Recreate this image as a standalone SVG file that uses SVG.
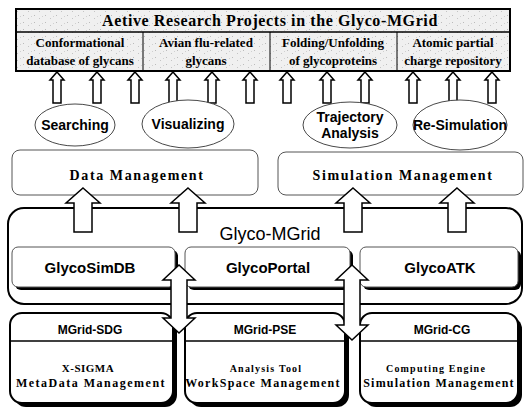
<svg xmlns="http://www.w3.org/2000/svg" xmlns:xlink="http://www.w3.org/1999/xlink" width="525" height="410" viewBox="0 0 525 410">
<defs>
<pattern id="speck" width="11" height="7" patternUnits="userSpaceOnUse">
<rect width="11" height="7" fill="#f0f0f0"/>
<rect x="1" y="1" width="1" height="1" fill="#bbb"/>
<rect x="6" y="4" width="1" height="1" fill="#c4c4c4"/>
<rect x="9" y="2" width="1" height="1" fill="#d0d0d0"/>
</pattern>
<path id="sa" d="M0,0 L7,8 L4,8 L4,31 L-4,31 L-4,8 L-7,8 Z"/>
<path id="ba" d="M0,0 L17,15 L9,15 L9,44 L-9,44 L-9,15 L-17,15 Z"/>
</defs>
<style>
.arr{fill:#fff;stroke:#000;stroke-width:1.5;stroke-linejoin:miter}
.ser{font-family:"Liberation Serif",serif;font-weight:bold;fill:#000;text-anchor:middle}
.san{font-family:"Liberation Sans",Arial,sans-serif;font-weight:bold;fill:#000;text-anchor:middle}
.ell{fill:#fff;stroke:#333;stroke-width:0.9}
.mgmt{fill:#fff;stroke:#555;stroke-width:1}
.inner{fill:#fff;stroke:#555;stroke-width:1}
.shadow{fill:#000}
.bbox{fill:#fff;stroke:#000;stroke-width:2}
</style>
<rect width="525" height="410" fill="#fff"/>

<g id="projects">
<rect x="16" y="9" width="494" height="62" fill="url(#speck)" stroke="#000" stroke-width="2"/>
<line x1="16" y1="32" x2="510" y2="32" stroke="#000" stroke-width="1.5"/>
<line x1="143" y1="32" x2="143" y2="71" stroke="#000" stroke-width="1"/>
<line x1="270" y1="32" x2="270" y2="71" stroke="#000" stroke-width="1"/>
<line x1="397" y1="32" x2="397" y2="71" stroke="#000" stroke-width="1"/>
<text class="ser" x="270" y="26" font-size="16" letter-spacing="0.6">Aetive Research Projects in the Glyco-MGrid</text>
<text class="ser" x="80" y="47" font-size="13">Conformational</text>
<text class="ser" x="80" y="65" font-size="13">database of glycans</text>
<text class="ser" x="206" y="47" font-size="13">Avian flu-related</text>
<text class="ser" x="206" y="65" font-size="13">glycans</text>
<text class="ser" x="333" y="47" font-size="13">Folding/Unfolding</text>
<text class="ser" x="333" y="65" font-size="13">of glycoproteins</text>
<text class="ser" x="453" y="47" font-size="13">Atomic partial</text>
<text class="ser" x="453" y="65" font-size="13">charge repository</text>
</g>

<g id="connectors-top">
<use href="#sa" class="arr" x="57" y="72"/>
<use href="#sa" class="arr" x="97" y="72"/>
<use href="#sa" class="arr" x="135" y="72"/>
<use href="#sa" class="arr" x="173" y="72"/>
<use href="#sa" class="arr" x="212" y="72"/>
<use href="#sa" class="arr" x="250" y="72"/>
<use href="#sa" class="arr" x="287" y="72"/>
<use href="#sa" class="arr" x="327" y="72"/>
<use href="#sa" class="arr" x="365" y="72"/>
<use href="#sa" class="arr" x="413" y="72"/>
<use href="#sa" class="arr" x="453" y="72"/>
<use href="#sa" class="arr" x="492" y="72"/>
</g>

<g id="searching">
<ellipse class="ell" cx="75" cy="125" rx="40" ry="21"/>
<text class="san" x="75" y="130" font-size="14">Searching</text>
</g>
<g id="visualizing">
<ellipse class="ell" cx="188" cy="124" rx="46" ry="24"/>
<text class="san" x="188" y="129" font-size="14">Visualizing</text>
</g>
<g id="trajectory">
<ellipse class="ell" cx="350" cy="125" rx="47" ry="23"/>
<text class="san" x="350" y="122" font-size="14">Trajectory</text>
<text class="san" x="350" y="138" font-size="14">Analysis</text>
</g>
<g id="resimulation">
<ellipse class="ell" cx="460" cy="125" rx="47" ry="25"/>
<text class="san" x="460" y="130" font-size="14">Re-Simulation</text>
</g>

<g id="data-management">
<rect class="mgmt" x="12" y="150" width="246" height="45" rx="8"/>
<text class="ser" x="137" y="180" font-size="14" letter-spacing="1.6">Data Management</text>
</g>
<g id="simulation-management">
<rect class="mgmt" x="278" y="152" width="245" height="43" rx="8"/>
<text class="ser" x="403" y="180" font-size="14" letter-spacing="1.6">Simulation Management</text>
</g>

<g id="glyco-mgrid">
<rect x="8" y="208" width="514" height="96" rx="16" fill="#fff" stroke="#000" stroke-width="2"/>
<text x="270" y="240" font-family="'Liberation Sans',Arial,sans-serif" font-size="18" text-anchor="middle" fill="#000">Glyco-MGrid</text>
</g>
<g id="glycosimdb">
<rect class="shadow" x="15" y="250" width="163" height="40" rx="6"/>
<rect class="inner" x="12" y="247" width="163" height="40" rx="6"/>
<text class="san" x="90" y="273" font-size="15">GlycoSimDB</text>
</g>
<g id="glycoportal">
<rect class="shadow" x="188" y="250" width="165" height="40" rx="6"/>
<rect class="inner" x="185" y="247" width="165" height="40" rx="6"/>
<text class="san" x="268" y="273" font-size="15">GlycoPortal</text>
</g>
<g id="glycoatk">
<rect class="shadow" x="363" y="250" width="158" height="40" rx="6"/>
<rect class="inner" x="360" y="247" width="158" height="40" rx="6"/>
<text class="san" x="440" y="273" font-size="15">GlycoATK</text>
</g>

<g id="mgrid-sdg">
<rect class="shadow" x="14" y="317" width="163" height="90" rx="12"/>
<rect class="bbox" x="10" y="313" width="163" height="90" rx="12"/>
<line x1="10" y1="341" x2="173" y2="341" stroke="#000" stroke-width="1.5"/>
<text class="san" x="90" y="334" font-size="12">MGrid-SDG</text>
<text class="ser" x="88" y="372" font-size="11" letter-spacing="0.5">X-SIGMA</text>
<text class="ser" x="91" y="387" font-size="12" letter-spacing="1.5">MetaData Management</text>
</g>
<g id="mgrid-pse">
<rect class="shadow" x="189" y="317" width="160" height="90" rx="12"/>
<rect class="bbox" x="185" y="313" width="160" height="90" rx="12"/>
<line x1="185" y1="341" x2="345" y2="341" stroke="#000" stroke-width="1.5"/>
<text class="san" x="265" y="334" font-size="12">MGrid-PSE</text>
<text class="ser" x="266" y="372" font-size="10" letter-spacing="1.2">Analysis Tool</text>
<text class="ser" x="263" y="387" font-size="12" letter-spacing="1.3">WorkSpace Management</text>
</g>
<g id="mgrid-cg">
<rect class="shadow" x="364" y="317" width="158" height="90" rx="12"/>
<rect class="bbox" x="360" y="313" width="158" height="90" rx="12"/>
<line x1="360" y1="341" x2="518" y2="341" stroke="#000" stroke-width="1.5"/>
<text class="san" x="442" y="334" font-size="12">MGrid-CG</text>
<text class="ser" x="436" y="372" font-size="10" letter-spacing="1.2">Computing Engine</text>
<text class="ser" x="439" y="387" font-size="12" letter-spacing="1.2">Simulation Management</text>
</g>

<g id="connectors">
<use href="#ba" class="arr" x="83" y="188"/>
<use href="#ba" class="arr" x="188" y="188"/>
<use href="#ba" class="arr" x="353" y="188"/>
<use href="#ba" class="arr" x="457" y="188"/>
<path class="arr" d="M179,265 L195,280 L187,280 L187,318 L195,318 L179,333 L163,318 L171,318 L171,280 L163,280 Z"/>
<path class="arr" d="M352,265 L368,280 L360,280 L360,325 L368,325 L352,340 L336,325 L344,325 L344,280 L336,280 Z"/>
</g>
</svg>
